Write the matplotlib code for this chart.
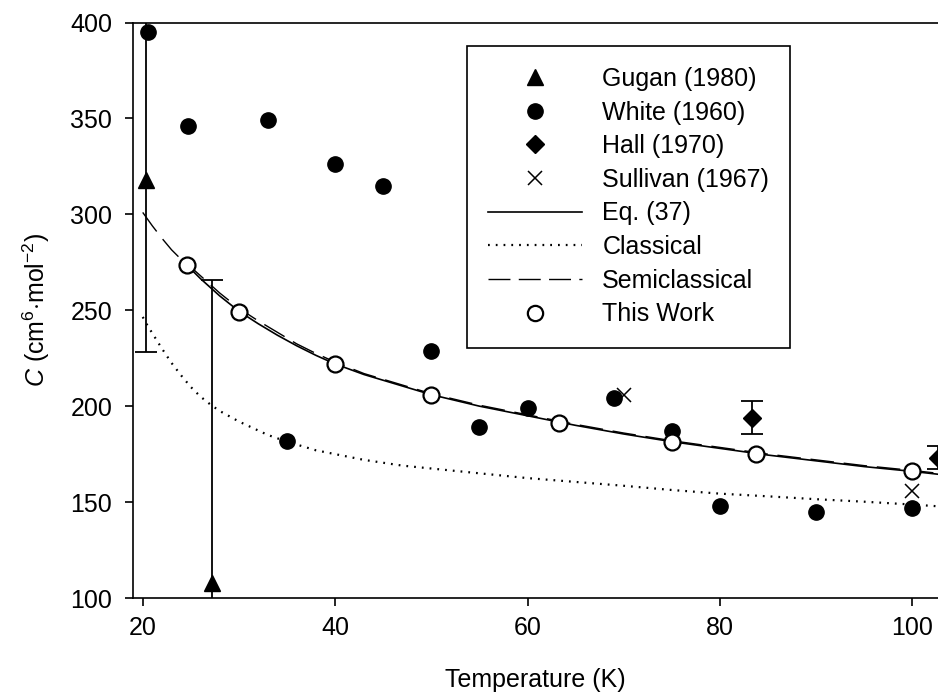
import numpy as np
import matplotlib
matplotlib.use("Agg")
import matplotlib.pyplot as plt
from matplotlib.lines import Line2D

plt.rcParams['font.family'] = ['Liberation Sans', 'DejaVu Sans']
plt.rcParams['mathtext.fontset'] = 'custom'
plt.rcParams['mathtext.it'] = 'Liberation Sans:italic'
plt.rcParams['mathtext.rm'] = 'Liberation Sans'

# --- dati ---
gugan_T = [20.3, 27.2]
gugan_C = [318, 108]
gugan_err = [90, 158]

white_T = [20.5, 24.7, 33, 35, 40, 45, 50, 55, 60, 69, 75, 80, 90, 100]
white_C = [395, 346, 349, 182, 326, 315, 229, 189, 199, 204, 187, 148, 145, 147]

hall_T = [83.3, 102.7]
hall_C = [194, 173]
hall_err = [8.5, 6]

sullivan_T = [70, 100]
sullivan_C = [206, 156]

eq37_T = [24.6, 26, 28, 30, 32, 34, 36, 38, 40, 43, 46, 50, 55, 60, 65, 70,
          75, 80, 85, 90, 95, 100, 102.7]
eq37_C = [273.5, 266.5, 257.5, 249.5, 243, 237, 231.5, 226.5, 222, 216.5, 212,
          206, 200, 195, 190, 185.5, 181.5, 178, 174.5, 171.5, 168.5, 166, 164.5]

classical_T = [20, 20.5, 21, 22, 23, 24, 25, 26, 27, 28, 30, 33, 35, 38, 40,
               43, 47, 53, 60, 65, 70, 75, 80, 85, 90, 95, 100, 102.7]
classical_C = [246.5, 242, 238, 230, 222.5, 216, 210, 205, 201, 197.5, 192,
               185, 181.5, 177, 175, 172, 169, 166, 162.5, 160.5, 158.5, 156.3,
               154.4, 153, 151.5, 150.2, 148.7, 147.8]

semi_T = [20, 21, 22, 23, 24, 25, 26, 28, 30, 32, 34, 36, 38, 40, 43, 46, 50,
          55, 60, 65, 70, 75, 80, 85, 90, 95, 100, 102.7]
semi_C = [301, 294, 287.5, 281.5, 276.5, 272.5, 268, 259, 251, 244.5, 238.5,
          232.5, 227.5, 223, 217, 212.5, 206.5, 200.5, 195.5, 190.5, 186,
          182, 178.5, 175, 172, 169, 166.5, 165]

this_T = [24.6, 30, 40, 50, 63.3, 75, 83.8, 100]
this_C = [273.5, 249, 222, 206, 191, 181.5, 175, 166]

FS = 18

fig = plt.figure(figsize=(9.38, 6.98), dpi=100)
ax = fig.add_axes([133 / 938, 100 / 698, 805 / 938, 575.5 / 698])

ax.errorbar(gugan_T, gugan_C, yerr=gugan_err, fmt='^', color='black', ms=12,
            elinewidth=1.3, capsize=8, capthick=1.3, zorder=4)
ax.plot(white_T, white_C, 'o', color='black', ms=11, zorder=4)
ax.errorbar(hall_T, hall_C, yerr=hall_err, fmt='D', color='black', ms=9,
            elinewidth=1.3, capsize=8, capthick=1.3, zorder=4)
ax.plot(sullivan_T, sullivan_C, 'x', color='black', ms=10, mew=1.1, zorder=4)
ax.plot(eq37_T, eq37_C, '-', color='black', lw=1.2, zorder=3)
ax.plot(classical_T, classical_C, color='black', lw=1.6, linestyle=(0, (0.8, 2.7)),
        zorder=3)
ax.plot(semi_T, semi_C, color='black', lw=1.0, linestyle=(0, (17, 7)), zorder=3)
ax.plot(this_T, this_C, 'o', mfc='white', mec='black', mew=1.6, ms=11.5, zorder=5)

ax.set_xlim(18.99, 102.67)
ax.set_ylim(100, 400)
ax.set_xticks([20, 40, 60, 80, 100])
ax.set_yticks([100, 150, 200, 250, 300, 350, 400])
ax.spines['right'].set_visible(False)
for s in ['left', 'bottom', 'top']:
    ax.spines[s].set_linewidth(1.2)
ax.tick_params(direction='out', length=6, width=1.2, labelsize=FS)
ax.tick_params(axis='x', pad=7)
ax.tick_params(axis='y', pad=9)

ax.set_xlabel('Temperature (K)', fontsize=FS, labelpad=20)
ax.set_ylabel(r'$\it{C}$ (cm$^{6}$$\cdot$mol$^{-2}$)', fontsize=FS, labelpad=13)

# legenda con soli simboli (senza barre d'errore)
handles = [
    Line2D([], [], ls='none', marker='^', color='black', ms=11),
    Line2D([], [], ls='none', marker='o', color='black', ms=11),
    Line2D([], [], ls='none', marker='D', color='black', ms=9),
    Line2D([], [], ls='none', marker='x', color='black', ms=10, mew=1.1),
    Line2D([], [], ls='-', color='black', lw=1.2),
    Line2D([], [], color='black', lw=1.6, linestyle=(0, (0.8, 2.7))),
    Line2D([], [], color='black', lw=1.0, linestyle=(0, (15.8, 6))),
    Line2D([], [], ls='none', marker='o', mfc='white', mec='black', mew=1.6, ms=11),
]
labels = ['Gugan (1980)', 'White (1960)', 'Hall (1970)', 'Sullivan (1967)',
          'Eq. (37)', 'Classical', 'Semiclassical', 'This Work']
leg = ax.legend(handles, labels, loc='upper left',
                bbox_to_anchor=(467 / 938, 1 - 45.7 / 698),
                bbox_transform=fig.transFigure, borderaxespad=0,
                fontsize=FS, handlelength=3.76, handletextpad=0.8,
                labelspacing=0.385, borderpad=0.85, fancybox=False, framealpha=1)
leg.get_frame().set_edgecolor('black')
leg.get_frame().set_linewidth(1.2)

fig.savefig('out.png', dpi=100)
